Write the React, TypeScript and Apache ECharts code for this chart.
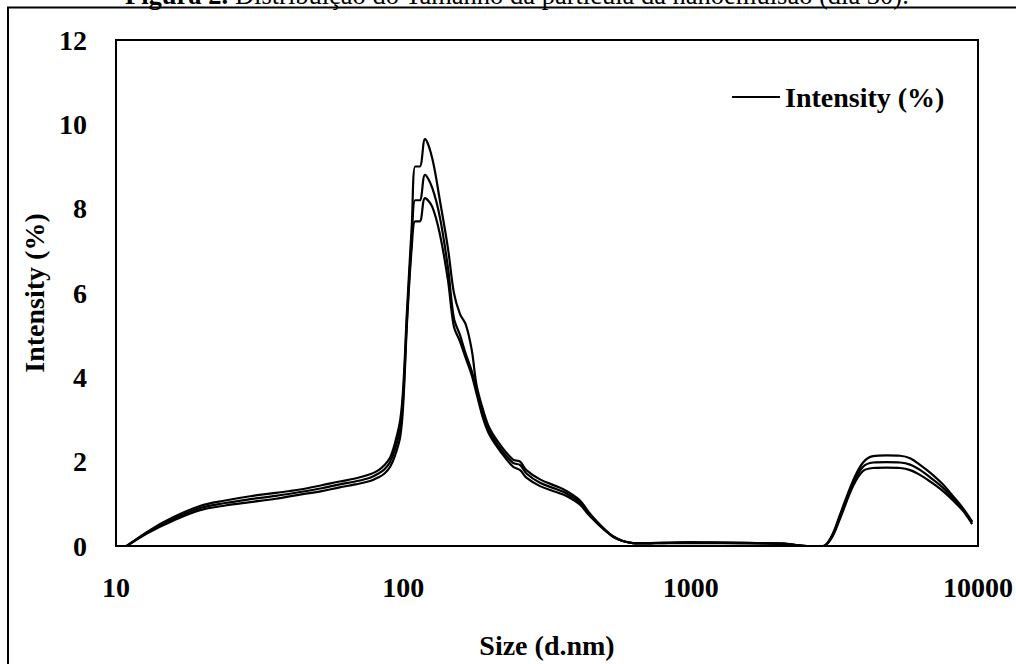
import React, { useEffect, useRef } from "react";
import * as echarts from "echarts";

const sizes = [10.9, 13, 15.8, 19.6, 24, 29.3, 36, 43.7, 52, 60, 68, 76.6, 82, 86, 90, 93.6, 97.6, 100, 103, 107, 110, 114, 119, 126, 134, 143, 150, 157.5, 165, 173, 180, 190, 200, 220, 241, 255, 268, 299, 340, 371, 412, 440, 472, 505, 537, 580, 630, 700, 800, 1000, 1300, 1700, 2100, 2300, 2540, 2890, 3100, 3311, 3675, 3981, 4313, 4800, 5358, 5804, 6300, 6813, 7500, 8190, 8900, 9540];

const runA = [0, 0.36, 0.68, 0.95, 1.08, 1.18, 1.26, 1.34, 1.44, 1.53, 1.6, 1.7, 1.8, 1.92, 2.1, 2.45, 3.0, 3.8, 5.6, 7.6, 9.0, 9.0, 9.65, 9.2, 8.2, 7.06, 6.0, 5.5, 5.25, 4.65, 3.8, 3.2, 2.78, 2.35, 2.05, 2.0, 1.8, 1.58, 1.42, 1.3, 1.08, 0.82, 0.58, 0.38, 0.23, 0.12, 0.07, 0.07, 0.08, 0.09, 0.08, 0.07, 0.06, 0.03, 0, 0, 0.25, 0.75, 1.55, 1.98, 2.13, 2.15, 2.14, 2.08, 1.92, 1.74, 1.48, 1.18, 0.88, 0.58];

const runB = [0, 0.34, 0.64, 0.9, 1.02, 1.11, 1.19, 1.28, 1.37, 1.46, 1.53, 1.62, 1.72, 1.82, 2.0, 2.3, 2.8, 3.6, 5.4, 7.3, 8.2, 8.2, 8.8, 8.5, 7.8, 6.6, 5.4, 5.0, 4.55, 4.15, 3.7, 3.1, 2.7, 2.27, 1.97, 1.92, 1.72, 1.5, 1.35, 1.24, 1.03, 0.78, 0.56, 0.37, 0.22, 0.12, 0.07, 0.06, 0.07, 0.08, 0.08, 0.07, 0.05, 0.03, 0, 0, 0.22, 0.7, 1.48, 1.88, 1.98, 1.99, 1.98, 1.93, 1.8, 1.63, 1.4, 1.13, 0.85, 0.56];

const runC = [0, 0.32, 0.6, 0.85, 0.96, 1.04, 1.12, 1.22, 1.3, 1.39, 1.46, 1.54, 1.63, 1.72, 1.88, 2.15, 2.6, 3.4, 5.3, 7.1, 7.7, 7.7, 8.25, 8.05, 7.4, 6.3, 5.2, 4.85, 4.45, 4.05, 3.6, 3.0, 2.62, 2.2, 1.88, 1.8, 1.62, 1.42, 1.28, 1.18, 0.98, 0.75, 0.54, 0.36, 0.22, 0.12, 0.07, 0.06, 0.07, 0.07, 0.07, 0.06, 0.05, 0.02, 0, 0, 0.2, 0.65, 1.42, 1.78, 1.85, 1.86, 1.85, 1.8, 1.68, 1.53, 1.32, 1.08, 0.82, 0.52];

const xTicks = [10, 100, 1000, 10000];
const yTicks = [0, 2, 4, 6, 8, 10, 12];
const seriesName = "Intensity (%)";
const xName = "Size (d.nm)";
const yName = "Intensity (%)";
const titleBold = "Figura 2.";
const titleRest = " Distribuição do Tamanho da partícula da nanoemulsão (dia 30).";

const FONT = "'Liberation Serif', 'Times New Roman', serif";

export default function App() {
  const ref = useRef<HTMLDivElement>(null);
  useEffect(() => {
    document.body.style.margin = "0";
    const chart = echarts.init(ref.current!, null, { renderer: "svg" });
    const runs = [runA, runB, runC];
    const labelStyle = { fontFamily: FONT, fontWeight: "bold" as const, fontSize: 28, color: "#000" };
    chart.setOption({
      animation: false,
      backgroundColor: "#fff",
      grid: { left: 116, top: 40, right: 38, bottom: 106, show: true, borderColor: "#000", borderWidth: 2, backgroundColor: "transparent" },
      legend: {
        data: [seriesName],
        left: 727,
        top: 78,
        icon: "rect",
        itemWidth: 48,
        itemHeight: 2,
        textStyle: { ...labelStyle },
      },
      xAxis: {
        type: "log",
        logBase: 10,
        min: xTicks[0],
        max: xTicks[xTicks.length - 1],
        name: xName,
        nameLocation: "middle",
        nameGap: 85,
        nameTextStyle: { ...labelStyle },
        axisLine: { show: false },
        axisTick: { show: false },
        splitLine: { show: false },
        axisLabel: { ...labelStyle, margin: 27, formatter: (v: number) => String(Math.round(v)) },
      },
      yAxis: {
        type: "value",
        min: yTicks[0],
        max: yTicks[yTicks.length - 1],
        interval: 2,
        name: yName,
        nameLocation: "middle",
        nameGap: 66,
        nameTextStyle: { ...labelStyle },
        axisLine: { show: false },
        axisTick: { show: false },
        splitLine: { show: false },
        axisLabel: { ...labelStyle, margin: 29 },
      },
      series: runs.map((r) => ({
        name: seriesName,
        type: "line",
        data: sizes.map((s, i) => [s, r[i]]),
        smooth: 0.35,
        showSymbol: false,
        symbol: "none",
        lineStyle: { color: "#000", width: 2.2 },
        itemStyle: { color: "#000" },
      })),
      graphic: [
        {
          type: "rect",
          shape: { x: 8, y: 7.5, width: 1300, height: 900 },
          style: { fill: "none", stroke: "#000", lineWidth: 2 },
          silent: true,
        },
        {
          type: "text",
          x: 517,
          y: -5.5,
          style: {
            text: "{b|" + titleBold + "}" + titleRest,
            rich: { b: { fontWeight: "bold", fontFamily: FONT, fontSize: 26.5 } },
            fontFamily: FONT,
            fontSize: 26.5,
            fill: "#000",
            align: "center",
            verticalAlign: "middle",
          },
        },
      ],
    });
    return () => chart.dispose();
  }, []);
  return <div ref={ref} style={{ width: 1016, height: 664 }} />;
}
